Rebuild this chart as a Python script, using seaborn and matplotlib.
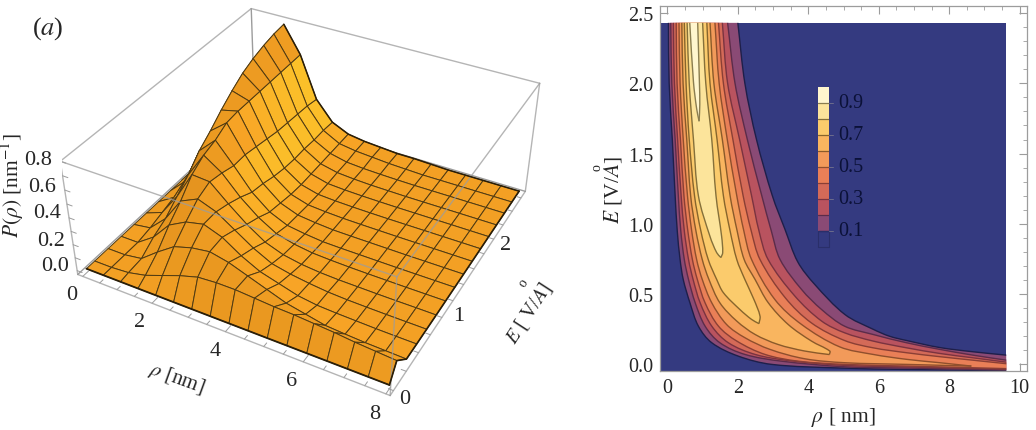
import numpy as np
import matplotlib
matplotlib.use('Agg')
import matplotlib.pyplot as plt
from matplotlib.colors import ListedColormap
from matplotlib.path import Path
from matplotlib.patches import PathPatch
import seaborn as sns

# surface mesh (left panel), one list per E line
rho_mesh = [0, .5, 1, 1.5, 2, 2.5, 3, 3.5, 4, 4.5, 5, 5.5, 6, 6.5, 7, 7.5, 8]
E_mesh = [0, .10, .266, .433, .6, .766, .933, 1.1, 1.266, 1.433, 1.6, 1.766, 1.93, 2.1, 2.265, 2.43]
p_00 = [0, 0, 0, 0, 0, 0, 0, 0, 0, 0, 0, 0, 0, 0, 0, 0, 0]
p_01 = [0, 0, .01, .04, .09, .14, .18, .19, .19, .18, .17, .165, .155, .145, .13, .12, .11]
p_02 = [0, 0, .02, .12, .21, .25, .27, .24, .19, .14, .09, .06, .03, .02, .012, .008, .004]
p_03 = [0, 0, .09, .23, .30, .33, .28, .19, .12, .08, .04, .02, .013, .009, .005, .003, .002]
p_04 = [0, .02, .14, .32, .38, .33, .24, .15, .08, .05, .03, .015, .008, .005, .003, .002, .001]
p_05 = [0, .05, .22, .43, .42, .30, .19, .10, .05, .025, .012, .006, .004, .002, .001, .001, 0]
p_06 = [0, .08, .30, .49, .40, .26, .15, .07, .035, .015, .008, .004, .002, .001, 0, 0, 0]
p_07 = [0, .12, .40, .52, .37, .21, .10, .04, .02, .006, .003, .002, .001, 0, 0, 0, 0]
p_08 = [0, .15, .47, .57, .37, .19, .08, .03, .015, .005, .003, .002, .001, 0, 0, 0, 0]
p_09 = [0, .19, .55, .58, .35, .16, .06, .02, .01, .004, .002, .001, 0, 0, 0, 0, 0]
p_10 = [0, .23, .62, .58, .33, .14, .05, .015, .007, .003, .001, 0, 0, 0, 0, 0, 0]
p_11 = [0, .26, .68, .58, .31, .13, .05, .015, .007, .003, .001, 0, 0, 0, 0, 0, 0]
p_12 = [0, .29, .72, .58, .30, .13, .05, .02, .01, .004, .002, 0, 0, 0, 0, 0, 0]
p_13 = [0, .31, .75, .58, .29, .12, .05, .02, .01, .005, .002, 0, 0, 0, 0, 0, 0]
p_14 = [0, .33, .77, .58, .28, .12, .05, .03, .02, .01, .005, 0, 0, 0, 0, 0, 0]
p_15 = [0, .35, .78, .58, .26, .11, .05, .03, .02, .01, .01, .005, 0, 0, 0, 0, 0]

# contour lines (right panel), lower and upper branch of each level
levels = [.1, .2, .3, .4, .5, .6, .7, .8, .9]
low_rho_1 = [.03, .05, .14, .22, .28, .36, .45, .64, .88, 1.26, 2.01, 2.96, 4.93, 6.79, 9.62]
low_E_1 = [2.43, 2.0, 1.6, 1.2, .95, .746, .604, .438, .272, .154, .059, 0, -.026, -.036, -.045]
up_rho_1 = [2.0, 2.2, 2.53, 2.98, 3.34, 3.7, 4.18, 5.04, 5.84, 6.31, 6.79, 7.73, 8.67, 9.62]
up_E_1 = [2.43, 2.0, 1.6, 1.2, .96, .73, .57, .355, .25, .2, .17, .12, .09, .066]
low_rho_2 = [.095, .125, .22, .31, .38, .48, .60, .79, 1.07, 1.49, 2.2, 3.24, 5.03, 6.79, 9.62]
low_E_2 = [2.43, 2.0, 1.6, 1.2, .95, .746, .604, .438, .272, .154, .071, .023, -.017, -.026, -.04]
up_rho_2 = [1.71, 1.92, 2.27, 2.68, 2.95, 3.2, 3.81, 4.38, 5.03, 5.84, 6.79, 7.73, 8.67, 9.62]
up_E_2 = [2.43, 2.0, 1.6, 1.2, .95, .746, .533, .39, .272, .213, .154, .107, .066, .03]
low_rho_3 = [.17, .2, .29, .39, .48, .60, .73, .93, 1.26, 1.73, 2.49, 3.43, 5.03, 6.79, 9.62]
low_E_3 = [2.43, 2.0, 1.6, 1.2, .95, .746, .604, .438, .272, .154, .071, .028, -.007, -.018, -.035]
up_rho_3 = [1.56, 1.71, 2.05, 2.39, 2.6, 2.86, 3.62, 4.38, 5.03, 5.84, 6.79, 7.73, 8.67, 9.62]
up_E_3 = [2.43, 2.0, 1.6, 1.2, .95, .746, .486, .308, .225, .166, .118, .078, .047, .016]
low_rho_4 = [.25, .275, .37, .47, .58, .71, .85, 1.07, 1.45, 1.97, 2.77, 3.71, 5.03, 6.79, 9.62]
low_E_4 = [2.43, 2.0, 1.6, 1.2, .95, .746, .604, .438, .272, .166, .071, .023, 0, -.012, -.03]
up_rho_4 = [1.45, 1.59, 1.86, 2.15, 2.38, 2.63, 3.34, 4.09, 5.03, 5.84, 6.79, 7.73, 8.67, 9.62]
up_E_4 = [2.43, 2.0, 1.6, 1.2, .95, .746, .476, .295, .17, .118, .083, .055, .03, .005]
low_rho_5 = [.33, .36, .45, .57, .69, .83, .99, 1.26, 1.68, 2.2, 2.91, 3.9, 5.03, 6.79, 8.63]
low_E_5 = [2.43, 2.0, 1.6, 1.2, .95, .746, .604, .438, .284, .19, .107, .04, .012, 0, -.012]
up_rho_5 = [1.35, 1.47, 1.70, 1.97, 2.17, 2.39, 3.05, 3.81, 4.89, 5.84, 6.79, 7.73, 8.63]
up_E_5 = [2.43, 2.0, 1.6, 1.2, .95, .746, .462, .284, .125, .071, .036, .012, -.012]
low_rho_6 = [.41, .445, .55, .66, .81, .99, 1.18, 1.49, 1.97, 2.49, 3.14, 3.9, 4.6]
low_E_6 = [2.43, 2.0, 1.6, 1.2, .95, .746, .604, .438, .308, .213, .142, .095, .07]
up_rho_6 = [1.21, 1.32, 1.56, 1.78, 1.98, 2.18, 2.49, 2.86, 3.43, 4.09, 4.61, 4.6]
up_E_6 = [2.43, 2.0, 1.6, 1.2, .95, .746, .604, .44, .284, .166, .095, .07]
low_rho_7 = [.48, .53, .62, .77, .95, 1.16, 1.4, 1.59, 2.06, 2.39, 2.6]
low_E_7 = [2.43, 2.0, 1.6, 1.2, .95, .746, .604, .51, .39, .32, .29]
up_rho_7 = [1.12, 1.21, 1.41, 1.59, 1.78, 1.97, 2.2, 2.46, 2.63, 2.6]
up_E_7 = [2.43, 2.0, 1.6, 1.2, .95, .746, .604, .46, .343, .29]
low_rho_8 = [.56, .62, .74, .88, 1.21, 1.4, 1.52]
low_E_8 = [2.43, 2.0, 1.6, 1.2, .91, .795, .76]
up_rho_8 = [1.0, 1.09, 1.26, 1.38, 1.54, 1.57, 1.52]
up_E_8 = [2.43, 2.0, 1.6, 1.2, .91, .795, .76]
low_rho_9 = [.635, .74, .83, .9]
low_E_9 = [2.43, 2.01, 1.82, 1.73]
up_rho_9 = [.86, .91, .92, .9]
up_E_9 = [2.43, 2.0, 1.85, 1.73]

band_colors = ['#343A80', '#8A4A75', '#B9535F', '#D46A58', '#E97F57', '#F29A5A', '#F9B55F',
               '#FBCB6C', '#FCE49B', '#FFF6CE']
line_colors = ['#1E1F4A', '#5B2C4A', '#7A3340', '#8A3F35', '#8F4F2D', '#8A5A2A', '#87652C',
               '#85703A', '#8A7D4F']

sns.set_theme(style='white')
plt.rcParams['font.family'] = ['Liberation Serif', 'DejaVu Sans']
plt.rcParams['mathtext.fontset'] = 'stix'

W, H = 1036, 431
fig = plt.figure(figsize=(W / 100, H / 100), dpi=100)


def pxtext(x, y, s, **kw):
    # text placed by its pixel position in the figure
    kw.setdefault('ha', 'center')
    kw.setdefault('va', 'center')
    fig.text(x / W, 1 - y / H, s, **kw)


def curve_verts(xs, ys):
    # bezier vertices running through the read points of a contour
    pts = np.column_stack([xs, ys]) * [35.27, 140.7]
    tan = np.gradient(pts, axis=0)
    tan = tan / np.linalg.norm(tan, axis=1, keepdims=True)
    verts = [pts[0]]
    for i in range(len(pts) - 1):
        seg = np.linalg.norm(pts[i + 1] - pts[i]) / 3
        verts += [pts[i] + tan[i] * seg, pts[i + 1] - tan[i + 1] * seg, pts[i + 1]]
    return np.array(verts) / [35.27, 140.7]


# ---- left panel: surface ----
R0, R1, E0, E1, Z0, Z1 = -0.15, 8.1, -0.05, 2.5, -0.03, 0.8
ax3 = fig.add_axes([0, 0, 400 / W, 400 / H], projection='3d', computed_zorder=False)
ax3.set_xlim(R0, R1)
ax3.set_ylim(E0, E1)
ax3.set_zlim(Z0, Z1)
ax3.view_init(35.778, -61.548)
ax3.set_proj_type('persp', focal_length=0.4434)
ax3.set_box_aspect((1, 1.0025, 0.4002))
ax3.set_axis_off()

# put the axes where the box sits in the figure
ax3.apply_aspect()
t0, t1 = ax3.transData.transform([[0, 0], [1, 1]])
S = 2628.30 / (t1[0] - t0[0]) * 400
ax3.set_position([(311.91 - (t0[0] / 400) * S) / W, (252.45 - (t0[1] / 400) * S) / H, S / W, S / H])

P = np.array([p_00, p_01, p_02, p_03, p_04, p_05, p_06, p_07, p_08, p_09, p_10, p_11, p_12, p_13, p_14, p_15])
RR, EE = np.meshgrid(rho_mesh, E_mesh)

# golden shading from the slope of each mesh cell, rising side darker only at low E
gE, gR = np.gradient(P, E_mesh, rho_mesh)
rise = np.where(EE < 1, 0.45, 0.12)
shade = np.clip(0.60 - np.where(gR > 0, rise, 0.50) * gR - 0.05 * gE, 0, 1)
gold = sns.blend_palette(['#7E5212', '#D98A1A', '#F9A526', '#FDD62C'], as_cmap=True)
ax3.plot_surface(RR, EE, P, facecolors=gold(shade), edgecolor='#4F3A12', linewidth=0.7,
                 shade=False, rstride=1, cstride=1, zorder=2)

grey = '#9C9C9C'
back_edges = [((R0, E1, Z0), (R0, E1, Z1)), ((R0, E0, Z0), (R0, E1, Z0)), ((R0, E1, Z0), (R1, E1, Z0))]
front_edges = [((R0, E0, Z1), (R0, E1, Z1)), ((R0, E1, Z1), (R1, E1, Z1)), ((R1, E1, Z1), (R1, E0, Z1)),
               ((R1, E0, Z1), (R0, E0, Z1)), ((R0, E0, Z0), (R0, E0, Z1)), ((R1, E0, Z0), (R1, E0, Z1)),
               ((R1, E1, Z0), (R1, E1, Z1)), ((R0, E0, Z0), (R1, E0, Z0)), ((R1, E0, Z0), (R1, E1, Z0))]
for a, b in back_edges:
    ax3.plot(*zip(a, b), color=grey, lw=1.0, zorder=1)
for a, b in front_edges:
    ax3.plot(*zip(a, b), color=grey, lw=1.0, alpha=.75, zorder=3)
# outline of the surface, the far edge only from the peak on
ax3.plot(rho_mesh, [0] * 17, p_00, color='#2A1E08', lw=1.3, zorder=3)
ax3.plot([8] * 16, E_mesh, P[:, -1], color='#2A1E08', lw=1.2, zorder=3)
ax3.plot(rho_mesh[2:], [2.43] * 15, p_15[2:], color='#2A1E08', lw=1.1, zorder=3)

# small ticks on the box
for r in np.arange(0, 8.1, .5):
    ax3.plot([r, r], [E0, E0 + (.07 if r % 2 == 0 else .04)], [Z0, Z0], color=grey, lw=.7, zorder=3)
for e in np.arange(0, 2.45, .2):
    ax3.plot([R1, R1 - .12], [e, e], [Z0, Z0], color=grey, lw=.7, zorder=3)
for z in np.arange(0, .81, .1):
    ax3.plot([R0, R0 + .15], [E0, E0], [z, z], color=grey, lw=.7, zorder=3)

fs = 16
for x, y, s in [(72, 295, '0'), (140, 323, '2'), (215, 352, '4'), (292, 382, '6'), (375, 415, '8')]:
    pxtext(x, y, s, fontsize=fs)
for x, y, s in [(405, 400, '0'), (459, 317, '1'), (506, 246, '2')]:
    pxtext(x, y, s, fontsize=fs)
for x, y, s in [(38, 161, '0.8'), (42, 188, '0.6'), (47, 214, '0.4'), (51, 241, '0.2'), (55, 267, '0.0')]:
    pxtext(x, y, s, fontsize=fs)
pxtext(48, 29, '($a$)', fontsize=19)
pxtext(177, 379, r'$\rho$ [nm]', fontsize=15, rotation=-20)
pxtext(529, 313, '$E$ [ V/$A$]', fontsize=14.5, rotation=57)
pxtext(523, 283, 'o', fontsize=10, rotation=57)
pxtext(12, 186, r'$P(\rho)$ [nm$^{-1}$]', fontsize=15.5, rotation=90)

# ---- right panel: contours ----
ax = fig.add_axes([660 / W, 1 - 372 / H, 367 / W, 365 / H])
ax.set_xlim(-0.21, 10.21)
ax.set_ylim(-0.047, 2.55)
ax.fill([-0.21, 9.62, 9.62, -0.21], [-0.047, -0.047, 2.43, 2.43], color=band_colors[0], lw=0)
glob = globals()
for i, lev in enumerate(levels, 1):
    low = curve_verts(glob[f'low_rho_{i}'], glob[f'low_E_{i}'])
    up = curve_verts(glob[f'up_rho_{i}'], glob[f'up_E_{i}'])
    nl = len(low) - 1
    verts = np.vstack([low, up[::-1], low[:1]])
    codes = [Path.MOVETO] + [Path.CURVE4] * nl + [Path.LINETO] + [Path.CURVE4] * (len(up) - 1) + [Path.CLOSEPOLY]
    ax.add_patch(PathPatch(Path(verts, codes), facecolor=band_colors[i], edgecolor='none', lw=0))
for i, lev in enumerate(levels, 1):
    for c in (curve_verts(glob[f'low_rho_{i}'], glob[f'low_E_{i}']), curve_verts(glob[f'up_rho_{i}'], glob[f'up_E_{i}'])):
        codes = [Path.MOVETO] + [Path.CURVE4] * (len(c) - 1)
        ax.add_patch(PathPatch(Path(c, codes), facecolor='none', edgecolor=line_colors[i - 1], lw=1.0))
ax.set_xticks([0, 2, 4, 6, 8, 10])
ax.set_yticks([0, .5, 1, 1.5, 2, 2.5])
ax.set_yticklabels(['0.0', '0.5', '1.0', '1.5', '2.0', '2.5'])
ax.set_xticks(np.arange(-.0, 10.1, .5), minor=True)
ax.set_yticks(np.arange(0, 2.55, .1), minor=True)
ax.tick_params(which='major', direction='in', length=6, width=.8, color='#9C9C9C', top=True, right=True,
               bottom=True, left=True, labelsize=14.5, pad=5)
ax.tick_params(which='minor', direction='in', length=3, width=.6, color='#9C9C9C', top=True, right=True,
               bottom=True, left=True)
for sp in ax.spines.values():
    sp.set_color('#9C9C9C')
    sp.set_linewidth(.9)
ax.set_xlabel(r'$\rho$ [ nm]', fontsize=15.5, labelpad=6)
pxtext(613, 190, '$E$ [V/$A$]', fontsize=15.5, rotation=90)
pxtext(597, 168, 'o', fontsize=10, rotation=90)

# colour key inside the contour plot
cax = fig.add_axes([818 / W, 1 - 248 / H, 11 / W, 160 / H])
key_vals = np.arange(9.5, -.5, -1).reshape(-1, 1)
sns.heatmap(key_vals, cmap=ListedColormap(band_colors), cbar=False, xticklabels=False, yticklabels=False, ax=cax)
for r, c in zip(range(1, 10), line_colors[::-1]):
    cax.axhline(r, color=c, lw=.9)
for sp in cax.spines.values():
    sp.set_visible(False)
cax.plot([0, 1, 1, 0, 0], [9, 9, 10, 10, 9], color='#2A2F6A', lw=.8, clip_on=False)
for r, s in zip([1, 3, 5, 7, 9], ['0.9', '0.7', '0.5', '0.3', '0.1']):
    cax.plot([1, 1.36], [r, r], color='#6C6C8C', lw=.7, clip_on=False)
    cax.text(1.82, r, s, color='#0B1138', fontsize=14.5, va='center', ha='left', clip_on=False)

fig.savefig('out.png', dpi=100)
